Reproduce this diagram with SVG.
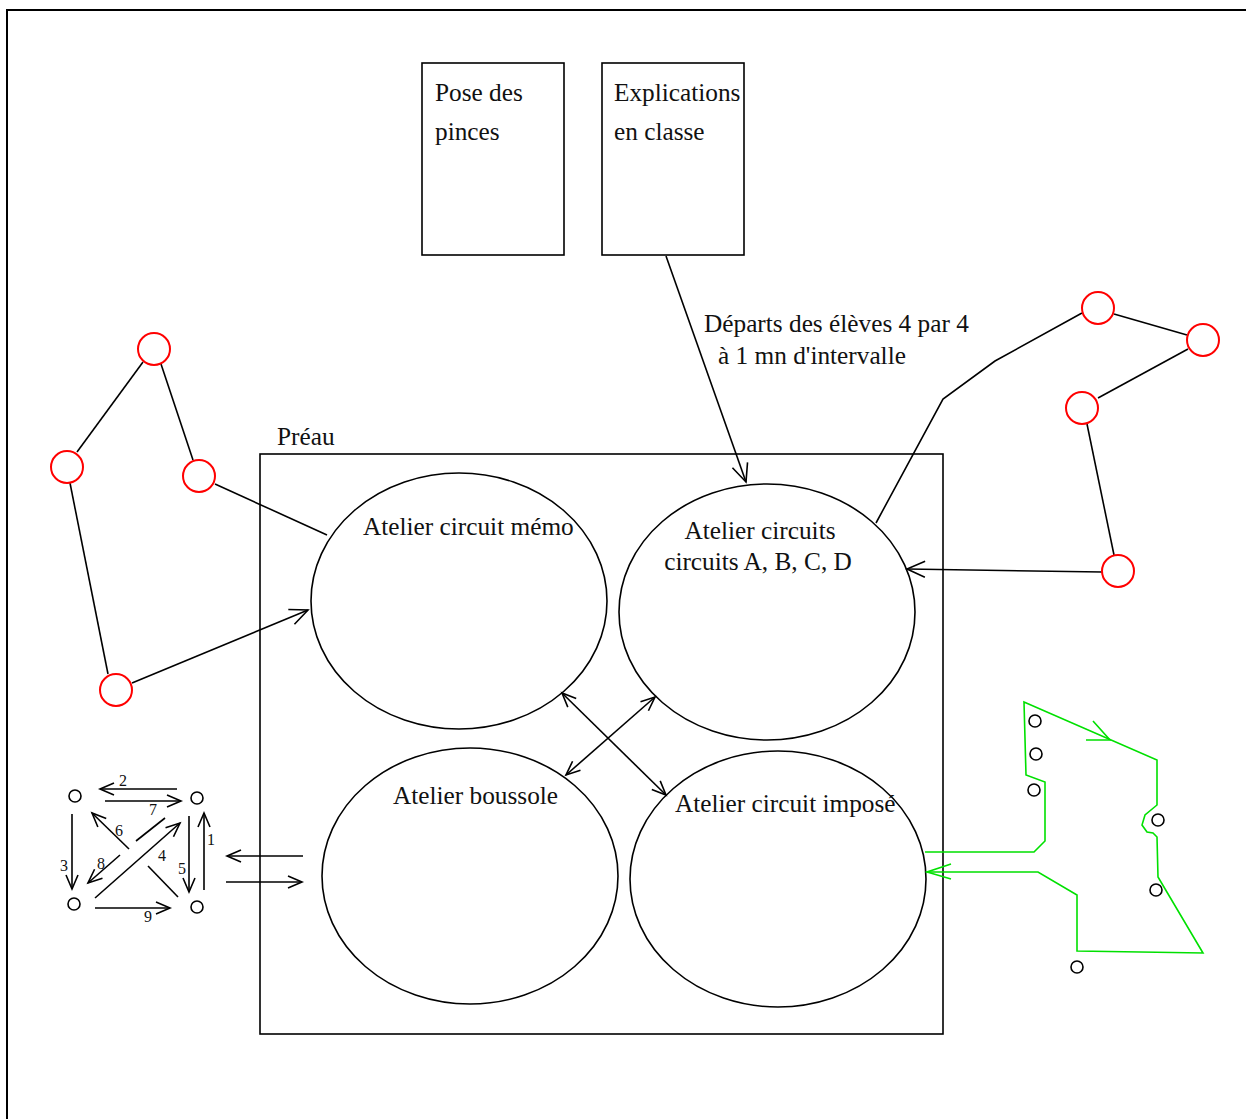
<svg xmlns="http://www.w3.org/2000/svg" width="1246" height="1119" viewBox="0 0 1246 1119">
<defs>
<marker id="ah" markerUnits="userSpaceOnUse" markerWidth="26" markerHeight="20" refX="20" refY="8" orient="auto" overflow="visible">
<path d="M2,0 L20,8 L2,16" fill="none" stroke="#000" stroke-width="1.6"/>
</marker>
<marker id="ahs" markerUnits="userSpaceOnUse" markerWidth="20" markerHeight="14" refX="16" refY="6" orient="auto" overflow="visible">
<path d="M2,0 L16,6 L2,12" fill="none" stroke="#000" stroke-width="1.6"/>
</marker>
<marker id="ahst" markerUnits="userSpaceOnUse" markerWidth="20" markerHeight="14" refX="2" refY="6" orient="auto" overflow="visible">
<path d="M16,0 L2,6 L16,12" fill="none" stroke="#000" stroke-width="1.6"/>
</marker>
</defs>
<style>
.ln{fill:none;stroke:#000;stroke-width:1.6}
.box{fill:#fff;stroke:#000;stroke-width:1.6}
.ell{fill:#fff;stroke:#000;stroke-width:1.6}
.red{fill:#fff;stroke:#ff0000;stroke-width:2}
.sm{fill:#fff;stroke:#000;stroke-width:1.6}
.t{font-family:"Liberation Serif","Times New Roman",serif;font-size:25.3px;fill:#111}
.n{font-family:"Liberation Serif","Times New Roman",serif;font-size:16px;fill:#111}
.g{fill:none;stroke:#00e000;stroke-width:1.6}
</style>
<rect width="1246" height="1119" fill="#fff"/>
<g id="frame">
<path d="M7,1119 L7,10 L1246,10" fill="none" stroke="#000" stroke-width="2"/>
</g>
<g id="preau">
<rect x="260" y="454" width="683" height="580" fill="none" stroke="#000" stroke-width="1.6"/>
<text class="t" x="277" y="445">Préau</text>
</g>
<g id="pose">
<rect class="box" x="422" y="63" width="142" height="192"/>
<text class="t" x="435" y="101">Pose des</text>
<text class="t" x="435" y="140">pinces</text>
</g>
<g id="explications">
<rect class="box" x="602" y="63" width="142" height="192"/>
<text class="t" x="614" y="101">Explications</text>
<text class="t" x="614" y="140">en classe</text>
</g>
<g id="depart-label">
<text class="t" x="704" y="332">Départs des élèves 4 par 4</text>
<text class="t" x="718" y="364">à 1 mn d'intervalle</text>
</g>
<g id="memo">
<ellipse class="ell" cx="459" cy="601" rx="148" ry="128"/>
<text class="t" x="363" y="535">Atelier circuit mémo</text>
</g>
<g id="circuits">
<ellipse class="ell" cx="767" cy="612" rx="148" ry="128"/>
<text class="t" x="760" y="539" text-anchor="middle">Atelier circuits</text>
<text class="t" x="758" y="570" text-anchor="middle">circuits A, B, C, D</text>
</g>
<g id="boussole">
<ellipse class="ell" cx="470" cy="876" rx="148" ry="128"/>
<text class="t" x="393" y="804">Atelier boussole</text>
</g>
<g id="impose">
<ellipse class="ell" cx="778" cy="879" rx="148" ry="128"/>
<text class="t" x="675" y="812">Atelier circuit imposé</text>
</g>
<g id="connectors">
<line class="ln" x1="666" y1="256" x2="746" y2="482" marker-end="url(#ah)"/>
<line class="ln" x1="562" y1="693" x2="666" y2="795" marker-start="url(#ahst)" marker-end="url(#ahs)"/>
<line class="ln" x1="655" y1="697" x2="566" y2="775" marker-start="url(#ahst)" marker-end="url(#ahs)"/>
<line class="ln" x1="303" y1="856" x2="227" y2="856" marker-end="url(#ahs)"/>
<line class="ln" x1="226" y1="882" x2="302" y2="882" marker-end="url(#ahs)"/>
<line class="ln" x1="143" y1="362" x2="77" y2="452"/>
<line class="ln" x1="161" y1="364" x2="193" y2="460"/>
<line class="ln" x1="70" y1="483" x2="108" y2="674"/>
<line class="ln" x1="215" y1="484" x2="327" y2="535"/>
<line class="ln" x1="132" y1="683" x2="308" y2="610" marker-end="url(#ah)"/>
<line class="ln" x1="1114" y1="314" x2="1187" y2="335"/>
<line class="ln" x1="1188" y1="349" x2="1098" y2="398"/>
<line class="ln" x1="1087" y1="424" x2="1114" y2="555"/>
<polyline class="ln" points="1082,313 995,361 943,399 876,523"/>
<line class="ln" x1="1102" y1="572" x2="907" y2="569" marker-end="url(#ah)"/>
<path class="g" d="M925,852 L1034,852 L1045,841 L1045,782 L1026,775 L1024,702 L1157,760 L1157,805 L1145,815 L1142,825 L1147,832 L1153,833 L1157,837 L1158,877 L1203,953 L1077,951 L1077,895 L1038,872 L926,872"/>
<path class="g" d="M951,864 L927,872 L951,879"/>
<path class="g" d="M1093,721 L1110,740 L1086,740"/>
</g>
<g id="left-circuit">
<circle class="red" cx="154" cy="349" r="16"/>
<circle class="red" cx="67" cy="467" r="16"/>
<circle class="red" cx="199" cy="476" r="16"/>
<circle class="red" cx="116" cy="690" r="16"/>
</g>
<g id="right-circuit">
<circle class="red" cx="1098" cy="308" r="16"/>
<circle class="red" cx="1203" cy="340" r="16"/>
<circle class="red" cx="1082" cy="408" r="16"/>
<circle class="red" cx="1118" cy="571" r="16"/>
</g>
<g id="green-circuit-markers">
<circle class="sm" cx="1035" cy="721" r="6"/>
<circle class="sm" cx="1036" cy="754" r="6"/>
<circle class="sm" cx="1034" cy="790" r="6"/>
<circle class="sm" cx="1158" cy="820" r="6"/>
<circle class="sm" cx="1156" cy="890" r="6"/>
<circle class="sm" cx="1077" cy="967" r="6"/>
</g>
<g id="small-graph">
<circle class="sm" cx="75" cy="796" r="6"/>
<circle class="sm" cx="197" cy="798" r="6"/>
<circle class="sm" cx="74" cy="904" r="6"/>
<circle class="sm" cx="197" cy="907" r="6"/>
<line class="ln" x1="177" y1="789" x2="100" y2="789" marker-end="url(#ahs)"/>
<line class="ln" x1="105" y1="801" x2="181" y2="801" marker-end="url(#ahs)"/>
<line class="ln" x1="72" y1="814" x2="72" y2="889" marker-end="url(#ahs)"/>
<line class="ln" x1="204" y1="890" x2="204" y2="813" marker-end="url(#ahs)"/>
<line class="ln" x1="189" y1="816" x2="189" y2="892" marker-end="url(#ahs)"/>
<line class="ln" x1="178" y1="897" x2="148" y2="866"/>
<line class="ln" x1="129" y1="849" x2="92" y2="813" marker-end="url(#ahs)"/>
<line class="ln" x1="165" y1="818" x2="136" y2="841"/>
<line class="ln" x1="120" y1="855" x2="88" y2="883" marker-end="url(#ahs)"/>
<line class="ln" x1="95" y1="898" x2="180" y2="823" marker-end="url(#ahs)"/>
<line class="ln" x1="95" y1="908" x2="170" y2="908" marker-end="url(#ahs)"/>
<text class="n" x="123" y="786" text-anchor="middle">2</text>
<text class="n" x="153" y="815" text-anchor="middle">7</text>
<text class="n" x="119" y="836" text-anchor="middle">6</text>
<text class="n" x="162" y="861" text-anchor="middle">4</text>
<text class="n" x="101" y="869" text-anchor="middle">8</text>
<text class="n" x="64" y="871" text-anchor="middle">3</text>
<text class="n" x="182" y="874" text-anchor="middle">5</text>
<text class="n" x="211" y="845" text-anchor="middle">1</text>
<text class="n" x="148" y="922" text-anchor="middle">9</text>
</g>
</svg>
